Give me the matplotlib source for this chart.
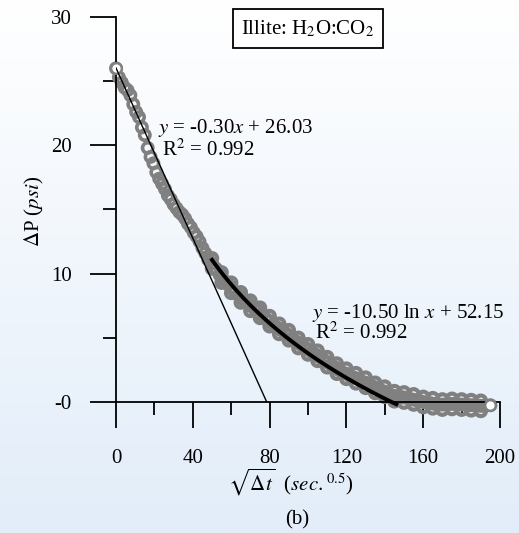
import numpy as np
import matplotlib
matplotlib.use("Agg")
import matplotlib.pyplot as plt
from matplotlib.ticker import MultipleLocator, FixedFormatter, FixedLocator
from matplotlib.colors import LinearSegmentedColormap
from matplotlib.patches import Rectangle

sqrt_t = [0, 1.5, 3, 4.5, 6, 7.5, 9, 10.5, 12, 13.5, 15, 16.5, 18, 19.5, 21, 22.5,
          24, 25.5, 27, 28.5, 30, 31.5, 33, 34.5, 36, 37.5, 39, 40.5, 42, 43.5,
          45, 46.5, 48, 50, 52, 54, 56, 58, 60, 62, 64, 66, 68, 70, 72, 74, 76,
          78, 80, 82, 84, 86, 88, 90, 92, 94, 96, 98, 100, 102, 104, 106, 108,
          110, 112, 114, 116, 118, 120, 122, 124, 126, 128, 130, 132, 134, 136,
          138, 140, 142, 144, 146, 148, 150, 152, 154, 156, 158, 160, 162, 164,
          166, 168, 170, 172, 174, 176, 178, 180, 182, 184, 186, 188, 190, 192, 195]
dp = [26.0, 25.3, 24.9, 24.5, 24.3, 23.9, 23.2, 22.6, 22.2, 21.4, 20.8, 19.8,
      19.1, 18.6, 17.9, 17.4, 17.0, 16.6, 16.1, 15.8, 15.4, 15.1, 14.8, 14.6,
      14.3, 13.9, 13.6, 13.2, 12.9, 12.5, 12.0, 11.6, 11.1, 10.8, 10.4, 9.9,
      9.5, 9.2, 8.9, 8.6, 8.3, 8.0, 7.8, 7.5, 7.3, 7.1, 6.8, 6.5, 6.3, 6.0,
      5.8, 5.6, 5.4, 5.2, 4.9, 4.7, 4.5, 4.3, 4.1, 3.9, 3.7, 3.5, 3.3, 3.1,
      2.9, 2.7, 2.5, 2.3, 2.2, 2.0, 1.9, 1.8, 1.6, 1.5, 1.3, 1.2, 1.0, 0.9,
      0.8, 0.6, 0.5, 0.45, 0.4, 0.35, 0.3, 0.2, 0.15, 0.1, 0.0, -0.05, -0.1,
      -0.15, -0.2, -0.2, -0.2, -0.15, -0.15, -0.2, -0.2, -0.2, -0.25, -0.25,
      -0.25, -0.3, -0.3, -0.25]

# scatter at the upper / lower edge of the band
edge_t = [50, 55, 60, 65, 70, 75, 80, 85, 90, 95, 100, 105, 110, 115, 120, 125,
          130, 135, 140, 145, 150, 155, 160, 165, 170, 175, 180, 185, 190]
edge_hi = [11.2, 10.1, 9.3, 8.55, 7.9, 7.35, 6.7, 6.1, 5.6, 5.0, 4.5, 4.0, 3.5,
           3.0, 2.6, 2.25, 1.9, 1.5, 1.2, 0.85, 0.75, 0.6, 0.4, 0.3, 0.2, 0.25,
           0.2, 0.15, 0.1]
edge_lo = [10.4, 9.3, 8.5, 7.75, 7.1, 6.55, 5.9, 5.3, 4.8, 4.2, 3.7, 3.2, 2.7,
           2.2, 1.8, 1.45, 1.1, 0.7, 0.4, 0.05, -0.05, -0.2, -0.4, -0.5, -0.6,
           -0.55, -0.6, -0.65, -0.7]

# straight-line fit (drawn until it meets zero)
lin_x = [0, 78.5]
lin_y = [26.03, 0.0]
# log fit range
log_x_range = [50, 146]
log_a, log_b = -10.50, 52.15

x_ticks = [0, 40, 80, 120, 160, 200]
x_tick_labels = ["0", "40", "80", "120", "160", "200"]
y_ticks = [0, 10, 20, 30]
y_tick_labels = ["-0", "10", "20", "30"]

plt.rcParams['font.family'] = ['Liberation Serif', 'DejaVu Serif']
plt.rcParams['mathtext.fontset'] = 'stix'
FS = 15
GREY = "#808080"

fig = plt.figure(figsize=(5.19, 5.33), dpi=100)

# light gradient background
bg = fig.add_axes([0, 0, 1, 1], zorder=-10)
grad = np.linspace(0, 1, 256).reshape(-1, 1)
cm = LinearSegmentedColormap.from_list("bg", ["#ffffff", "#e2edf9"])
bg.imshow(grad, aspect="auto", cmap=cm, extent=[0, 1, 0, 1])
bg.axis("off")

ax = fig.add_axes([0.2235, 0.2458, 0.7399, 0.7223])
ax.set_facecolor("none")

ax.scatter(edge_t + edge_t, edge_hi + edge_lo, s=55, facecolors="none",
           edgecolors=GREY, linewidths=3.0, zorder=2, clip_on=False)
ax.scatter(sqrt_t, dp, s=55, facecolors="none", edgecolors=GREY,
           linewidths=2.6, zorder=2, clip_on=False)
ax.scatter([sqrt_t[0], sqrt_t[-1]], [dp[0], dp[-1]], s=60, facecolors="white",
           edgecolors=GREY, linewidths=1.8, zorder=3, clip_on=False)

ax.plot(lin_x, lin_y, color="black", lw=1.0, zorder=4)
lx = np.linspace(log_x_range[0], log_x_range[1], 100)
ax.plot(lx, log_a * np.log(lx) + log_b, color="black", lw=2.8, zorder=4,
        clip_on=False)

ax.set_xlim(0, 200)
ax.set_ylim(0, 30)
for s in ["top", "right"]:
    ax.spines[s].set_visible(False)
for s in ["left", "bottom"]:
    ax.spines[s].set_linewidth(1.3)

ax.xaxis.set_major_locator(FixedLocator(x_ticks))
ax.xaxis.set_major_formatter(FixedFormatter(x_tick_labels))
ax.xaxis.set_minor_locator(MultipleLocator(20))
ax.yaxis.set_major_locator(FixedLocator(y_ticks))
ax.yaxis.set_major_formatter(FixedFormatter(y_tick_labels))
ax.yaxis.set_minor_locator(MultipleLocator(5))
ax.tick_params(which="major", direction="out", length=19, width=1.3,
               labelsize=FS, pad=13)
ax.tick_params(axis="x", which="major", pad=15)
ax.tick_params(which="minor", direction="out", length=9.5, width=1.3)

ax.text(0.11, 0.712, r"$y$ = -0.30$x$ + 26.03", transform=ax.transAxes,
        fontsize=FS, va="center")
ax.text(0.12, 0.655, r"R$^2$ = 0.992", transform=ax.transAxes,
        fontsize=FS, va="center")
ax.text(0.51, 0.231, r"$y$ = -10.50 ln $x$ + 52.15", transform=ax.transAxes,
        fontsize=FS, va="center")
ax.text(0.518, 0.179, r"R$^2$ = 0.992", transform=ax.transAxes,
        fontsize=FS, va="center")

# boxed title
fig.patches.append(Rectangle((0.449, 0.910), 0.289, 0.073, transform=fig.transFigure,
                             fc="white", ec="black", lw=1.3))
fig.text(0.593, 0.946, r"Illite: H$_2$O:CO$_2$", fontsize=FS, ha="center",
         va="center")

fig.text(0.067, 0.604, r"$\Delta$P ($psi$)", rotation=90, fontsize=FS,
         ha="center", va="center")
fig.text(0.559, 0.094, r"$\sqrt{\Delta t}$  ($sec.^{0.5}$)", fontsize=FS,
         ha="center", va="center")
fig.text(0.572, 0.024, "(b)", fontsize=FS, ha="center", va="center")

fig.savefig("out.png", dpi=100)
